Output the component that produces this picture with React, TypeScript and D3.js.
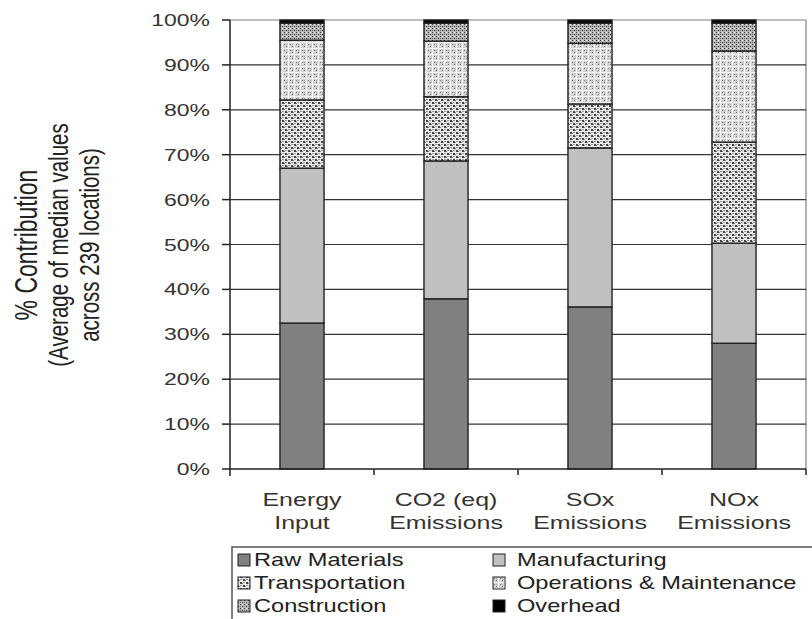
import React from "react";
import * as d3 from "d3";

const categories = [["Energy", "Input"], ["CO2 (eq)", "Emissions"], ["SOx", "Emissions"], ["NOx", "Emissions"]];
const seriesNames = ["Raw Materials", "Manufacturing", "Transportation", "Operations & Maintenance", "Construction", "Overhead"];
const rawMaterials = [32.5, 37.9, 36.1, 28.0];
const manufacturing = [34.5, 30.7, 35.4, 22.3];
const transportation = [15.2, 14.3, 9.8, 22.5];
const operations = [13.3, 12.4, 13.5, 20.3];
const construction = [3.8, 4.0, 4.5, 6.2];
const overhead = [0.7, 0.7, 0.7, 0.7];
const yTicks = [0, 10, 20, 30, 40, 50, 60, 70, 80, 90, 100];

const fills = ["#808080", "#c0c0c0", "url(#pTrans)", "url(#pOM)", "url(#pCons)", "#000000"];
const font = "Arial, 'Liberation Sans', sans-serif";
const SX = 1.35;

function SText({ x, y, size, anchor = "start", children, fill = "#222" }: any) {
  return (
    <g transform={`translate(${x},${y}) scale(${SX},1)`}>
      <text x={0} y={0} textAnchor={anchor} fontFamily={font} fontSize={size} fill={fill}>{children}</text>
    </g>
  );
}

function RText({ x, y, size, children }: any) {
  return (
    <g transform={`translate(${x},${y}) scale(${SX},1) rotate(-90)`}>
      <text x={0} y={0} textAnchor="middle" fontFamily={font} fontSize={size} fill="#222">{children}</text>
    </g>
  );
}

export default function App() {
  const left = 230, right = 806, top = 20, bottom = 469;
  const series = [rawMaterials, manufacturing, transportation, operations, construction, overhead];
  const keys = categories.map((_, i) => String(i));
  const x = d3.scaleBand().domain(keys).range([left, right]).paddingInner(0.694).paddingOuter(0.347);
  const xb = d3.scaleBand().domain(keys).range([left, right]);
  const y = d3.scaleLinear().domain([0, 100]).range([bottom, top]);
  const rows = categories.map((_, i) => {
    const o: any = { key: String(i) };
    seriesNames.forEach((s, j) => (o[s] = series[j][i]));
    return o;
  });
  const stacked = d3.stack().keys(seriesNames)(rows);
  const legendSym = [238, 493];
  const legendTxt = [254, 517];
  const legendBase = [566, 589, 612];

  return (
    <svg width={812} height={619} style={{ position: "absolute", left: 0, top: 0, background: "#fff" }}>
      <defs>
        <pattern id="pTrans" width="6" height="6" patternUnits="userSpaceOnUse">
          <rect width="6" height="6" fill="#eaeaea" />
          <rect x="0" y="0" width="2" height="2" fill="#444" />
          <rect x="3" y="3" width="2" height="2" fill="#444" />
          <rect x="3" y="0" width="2" height="1" fill="#999" />
          <rect x="0" y="3" width="2" height="1" fill="#999" />
          <rect x="2" y="1" width="1" height="1" fill="#888" />
          <rect x="5" y="4" width="1" height="1" fill="#888" />
        </pattern>
        <pattern id="pOM" width="6" height="6" patternUnits="userSpaceOnUse">
          <rect width="6" height="6" fill="#d2d2d2" />
          <rect x="0" y="0" width="1" height="6" fill="#fafafa" />
          <rect x="0" y="0" width="6" height="1" fill="#f4f4f4" />
          <rect x="2" y="2" width="1" height="1" fill="#777" />
          <rect x="4" y="4" width="1" height="1" fill="#777" />
          <rect x="4" y="2" width="1" height="1" fill="#aaa" />
        </pattern>
        <pattern id="pCons" width="4" height="4" patternUnits="userSpaceOnUse">
          <rect width="4" height="4" fill="#b8b8b8" />
          <rect x="0" y="0" width="1" height="1" fill="#333" />
          <rect x="2" y="2" width="1" height="1" fill="#333" />
          <rect x="2" y="0" width="1" height="1" fill="#eee" />
          <rect x="0" y="2" width="1" height="1" fill="#777" />
        </pattern>
      </defs>

      {/* plot border (top & right) */}
      <line x1={left} x2={right} y1={top} y2={top} stroke="#aaa" strokeWidth={1.5} />
      <line x1={right} x2={right} y1={top} y2={bottom} stroke="#999" strokeWidth={1.5} />
      {/* gridlines */}
      {yTicks.filter(t => t > 0 && t < 100).map(t => (
        <line key={t} x1={left} x2={right} y1={y(t)} y2={y(t)} stroke="#333" strokeWidth={1.2} />
      ))}

      {/* bars */}
      {stacked.map((layer, j) => (
        <g key={j}>
          {layer.map((d, i) => (
            <rect key={i} x={x(String(i))} width={x.bandwidth()} y={y(d[1])} height={y(d[0]) - y(d[1])}
              fill={fills[j]} stroke="#222" strokeWidth={1.4} />
          ))}
        </g>
      ))}

      {/* axes */}
      <line x1={left} x2={left} y1={top} y2={bottom + 7} stroke="#222" strokeWidth={1.5} />
      <line x1={left} x2={right} y1={bottom} y2={bottom} stroke="#222" strokeWidth={1.5} />
      {yTicks.map(t => (
        <g key={t}>
          <line x1={left - 8} x2={left} y1={y(t)} y2={y(t)} stroke="#222" strokeWidth={1.5} />
          <SText x={210} y={y(t) + 6} size={17} anchor="end" fill="#333">{t}%</SText>
        </g>
      ))}
      {keys.map(k => (
        <line key={k} x1={xb(k)! + xb.bandwidth()} x2={xb(k)! + xb.bandwidth()} y1={bottom} y2={bottom + 6} stroke="#222" strokeWidth={1.5} />
      ))}
      {categories.map((c, i) => {
        const cx = xb(String(i))! + xb.bandwidth() / 2;
        return (
          <g key={i}>
            <SText x={cx} y={506} size={18.5} anchor="middle" fill="#333">{c[0]}</SText>
            <SText x={cx} y={529} size={18.5} anchor="middle" fill="#333">{c[1]}</SText>
          </g>
        );
      })}

      {/* y axis title */}
      <RText x={37} y={245} size={23}>% Contribution</RText>
      <RText x={68} y={245} size={20.5}>(Average of median values</RText>
      <RText x={99} y={245} size={20.5}>across 239 locations)</RText>

      {/* legend */}
      <rect x={232} y={547} width={600} height={90} fill="none" stroke="#555" strokeWidth={1.5} />
      {seriesNames.map((s, j) => {
        const col = j % 2, row = Math.floor(j / 2);
        return (
          <g key={s}>
            <rect x={legendSym[col]} y={legendBase[row] - 12} width={12} height={12} fill={fills[j]} stroke="#222" strokeWidth={1} />
            <SText x={legendTxt[col]} y={legendBase[row]} size={17.5} fill="#222">{s}</SText>
          </g>
        );
      })}
    </svg>
  );
}
